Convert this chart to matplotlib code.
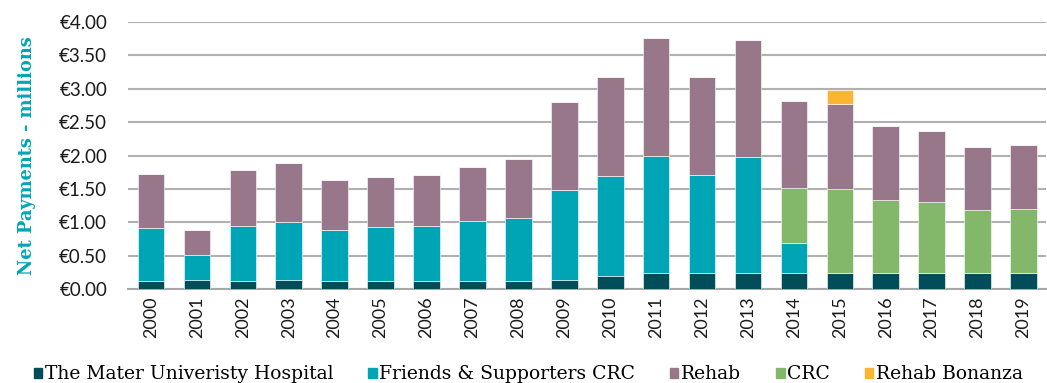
import numpy as np
import matplotlib
matplotlib.use("Agg")
import matplotlib.pyplot as plt
from matplotlib.ticker import FuncFormatter
from matplotlib.patches import Patch

years = [str(y) for y in range(2000, 2020)]

# net payments per year, € millions
mater = [0.13, 0.135, 0.13, 0.14, 0.13, 0.13, 0.13, 0.13, 0.13, 0.14,
         0.20, 0.25, 0.25, 0.25, 0.25, 0.25, 0.25, 0.25, 0.25, 0.25]
friends_crc = [0.79, 0.375, 0.82, 0.87, 0.76, 0.80, 0.82, 0.89, 0.94, 1.34,
               1.49, 1.75, 1.46, 1.73, 0.44, 0.0, 0.0, 0.0, 0.0, 0.0]
crc = [0.0] * 14 + [0.83, 1.25, 1.085, 1.05, 0.94, 0.95]
rehab = [0.80, 0.38, 0.83, 0.88, 0.75, 0.75, 0.76, 0.81, 0.88, 1.32,
         1.48, 1.76, 1.47, 1.75, 1.29, 1.27, 1.105, 1.06, 0.94, 0.95]
bonanza = [0.0] * 15 + [0.21] + [0.0] * 4

series = [
    ("The Mater Univeristy Hospital", mater, "#014d59"),
    ("Friends & Supporters CRC", friends_crc, "#00a5b5"),
    ("CRC", crc, "#83b86a"),
    ("Rehab", rehab, "#98778b"),
    ("Rehab Bonanza", bonanza, "#fbb533"),
]

fig = plt.figure(figsize=(10.47, 3.83), dpi=100)
ax = fig.add_axes([0.1223, 0.2446, 0.8772, 0.6987])

x = np.arange(len(years))
bottom = np.zeros(len(years))
for name, vals, col in series:
    vals = np.array(vals)
    ax.bar(x, vals, width=0.58, bottom=bottom, color=col,
           edgecolor="white", linewidth=0.4, zorder=3)
    bottom += vals

ax.set_xlim(-0.5, len(years) - 0.5)
ax.set_ylim(0, 4.0)
ax.set_yticks(np.arange(0, 4.01, 0.5))
ax.yaxis.set_major_formatter(FuncFormatter(lambda v, p: "€{:.2f}".format(v)))
ax.set_xticks(x)
ax.set_xticklabels(years, rotation=90)

for lab in ax.get_yticklabels():
    lab.set_fontfamily("Lato")
    lab.set_fontsize(13.5)
    lab.set_color("#1a1a1a")
for lab in ax.get_xticklabels():
    lab.set_fontfamily("Lato")
    lab.set_fontsize(13)
    lab.set_color("#1a1a1a")

ax.tick_params(axis="y", length=0, pad=15)
ax.tick_params(axis="x", length=0, pad=5)
ax.grid(axis="y", color="#b0b0b0", linewidth=1.5, zorder=0)
for s in ["top", "right", "left"]:
    ax.spines[s].set_visible(False)
ax.spines["bottom"].set_color("#a8a8a8")
ax.spines["bottom"].set_linewidth(1.5)

ax.set_ylabel("Net Payments - millions", fontfamily="DejaVu Serif",
              fontweight="bold", fontsize=12.8, color="#00a5b5")
ax.yaxis.set_label_coords(-0.1, 0.5)

# legend order follows the report layout
order = [0, 1, 3, 2, 4]
handles = [Patch(color=series[i][2]) for i in order]
labels = [series[i][0] for i in order]
fig.legend(handles, labels, loc="lower left", bbox_to_anchor=(0.016, -0.045),
           ncol=5, frameon=False, handlelength=0.45, handleheight=0.45,
           handletextpad=0.15, columnspacing=1.85,
           prop={"family": "DejaVu Serif", "size": 13.5})

fig.savefig("out.png", dpi=100)
